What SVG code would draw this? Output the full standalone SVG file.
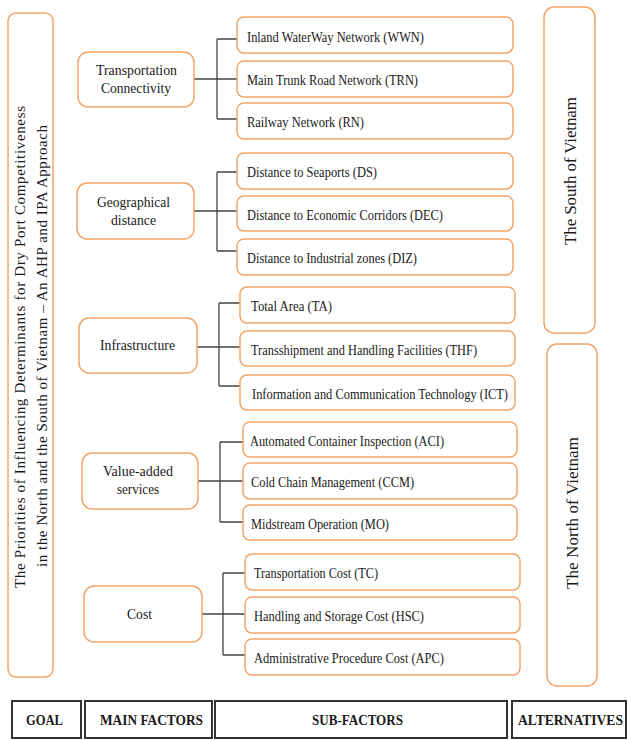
<svg xmlns="http://www.w3.org/2000/svg" width="628" height="740" viewBox="0 0 628 740">
<style>
  .box { fill: #ffffff; stroke: #F2A468; stroke-width: 1.5; }
  .hdr { fill: #ffffff; stroke: #333333; stroke-width: 2; }
  .t { font-family: "Liberation Serif", "Times New Roman", serif; fill: #1a1a1a; }
  .main { font-size: 15px; text-anchor: middle; }
  .sub { font-size: 14px; }
  .goal { font-size: 15px; text-anchor: middle; }
  .alt { font-size: 17px; text-anchor: middle; }
  .h { font-size: 14px; font-weight: bold; text-anchor: middle; }
  .conn { fill: none; stroke: #444444; stroke-width: 1.3; }
</style>
<rect width="628" height="740" fill="#ffffff"/>

<g id="goal">
  <rect class="box" x="8" y="13" width="45" height="664" rx="8"/>
  <text class="t goal" transform="translate(25,347) rotate(-90)" textLength="482" lengthAdjust="spacing">The Priorities of Influencing Determinants for Dry Port Competitiveness</text>
  <text class="t goal" transform="translate(47,346) rotate(-90)" textLength="442" lengthAdjust="spacing">in the North and the South of Vietnam – An AHP and IPA Approach</text>
</g>

<g id="connectors">
  <path class="conn" d="M194,79 H217 M217,39 V119 M217,39 H237 M217,79 H237 M217,119 H237"/>
  <path class="conn" d="M194,211 H217 M217,172 V251 M217,172 H237 M217,211 H237 M217,251 H237"/>
  <path class="conn" d="M197,347 H219 M219,303 V386 M219,303 H240 M219,347 H240 M219,386 H240"/>
  <path class="conn" d="M198,481 H220 M220,442 V522 M220,442 H243 M220,481 H243 M220,522 H243"/>
  <path class="conn" d="M202,614 H223 M223,573 V655 M223,573 H245 M223,614 H245 M223,655 H245"/>
</g>

<g id="main-transportation">
  <rect class="box" x="78" y="52" width="116" height="55" rx="10"/>
  <text class="t main" x="136.5" y="75" textLength="81" lengthAdjust="spacingAndGlyphs">Transportation</text>
  <text class="t main" x="136" y="93" textLength="70" lengthAdjust="spacingAndGlyphs">Connectivity</text>
</g>
<g id="main-geographical">
  <rect class="box" x="77" y="183" width="117" height="56" rx="10"/>
  <text class="t main" x="133.5" y="207" textLength="73" lengthAdjust="spacingAndGlyphs">Geographical</text>
  <text class="t main" x="133.5" y="225" textLength="45" lengthAdjust="spacingAndGlyphs">distance</text>
</g>
<g id="main-infrastructure">
  <rect class="box" x="79" y="318" width="118" height="55" rx="10"/>
  <text class="t main" x="137.5" y="350" textLength="75" lengthAdjust="spacingAndGlyphs">Infrastructure</text>
</g>
<g id="main-valueadded">
  <rect class="box" x="82" y="453" width="116" height="56" rx="10"/>
  <text class="t main" x="138" y="476" textLength="70" lengthAdjust="spacingAndGlyphs">Value-added</text>
  <text class="t main" x="138" y="494" textLength="42" lengthAdjust="spacingAndGlyphs">services</text>
</g>
<g id="main-cost">
  <rect class="box" x="84" y="586" width="118" height="56" rx="10"/>
  <text class="t main" x="139.5" y="619" textLength="25" lengthAdjust="spacingAndGlyphs">Cost</text>
</g>

<g id="sub-wwn">
  <rect class="box" x="237" y="17" width="276" height="36" rx="7"/>
  <text class="t sub" x="247" y="41.5" textLength="177" lengthAdjust="spacingAndGlyphs">Inland WaterWay Network (WWN)</text>
</g>
<g id="sub-trn">
  <rect class="box" x="237" y="61" width="276" height="36" rx="7"/>
  <text class="t sub" x="247" y="84.5" textLength="171" lengthAdjust="spacingAndGlyphs">Main Trunk Road Network (TRN)</text>
</g>
<g id="sub-rn">
  <rect class="box" x="237" y="103" width="276" height="36" rx="7"/>
  <text class="t sub" x="247" y="126.5" textLength="117" lengthAdjust="spacingAndGlyphs">Railway Network (RN)</text>
</g>
<g id="sub-ds">
  <rect class="box" x="237" y="153" width="276" height="36" rx="7"/>
  <text class="t sub" x="247" y="176.5" textLength="130" lengthAdjust="spacingAndGlyphs">Distance to Seaports (DS)</text>
</g>
<g id="sub-dec">
  <rect class="box" x="237" y="196" width="276" height="35" rx="7"/>
  <text class="t sub" x="247" y="219.5" textLength="196" lengthAdjust="spacingAndGlyphs">Distance to Economic Corridors (DEC)</text>
</g>
<g id="sub-diz">
  <rect class="box" x="237" y="239" width="276" height="36" rx="7"/>
  <text class="t sub" x="247" y="262.5" textLength="170" lengthAdjust="spacingAndGlyphs">Distance to Industrial zones (DIZ)</text>
</g>
<g id="sub-ta">
  <rect class="box" x="240" y="287" width="275" height="36" rx="7"/>
  <text class="t sub" x="251" y="310.5" textLength="81" lengthAdjust="spacingAndGlyphs">Total Area (TA)</text>
</g>
<g id="sub-thf">
  <rect class="box" x="240" y="331" width="275" height="35" rx="7"/>
  <text class="t sub" x="251" y="354.5" textLength="226" lengthAdjust="spacingAndGlyphs">Transshipment and Handling Facilities (THF)</text>
</g>
<g id="sub-ict">
  <rect class="box" x="240" y="375" width="275" height="35" rx="7"/>
  <text class="t sub" x="252" y="398.5" textLength="256" lengthAdjust="spacingAndGlyphs">Information and Communication Technology (ICT)</text>
</g>
<g id="sub-aci">
  <rect class="box" x="243" y="422" width="274" height="35" rx="7"/>
  <text class="t sub" x="250" y="445.5" textLength="194" lengthAdjust="spacingAndGlyphs">Automated Container Inspection (ACI)</text>
</g>
<g id="sub-ccm">
  <rect class="box" x="243" y="463" width="274" height="36" rx="7"/>
  <text class="t sub" x="251" y="486.5" textLength="163" lengthAdjust="spacingAndGlyphs">Cold Chain Management (CCM)</text>
</g>
<g id="sub-mo">
  <rect class="box" x="243" y="505" width="274" height="35" rx="7"/>
  <text class="t sub" x="251" y="528.5" textLength="138" lengthAdjust="spacingAndGlyphs">Midstream Operation (MO)</text>
</g>
<g id="sub-tc">
  <rect class="box" x="245" y="554" width="275" height="36" rx="7"/>
  <text class="t sub" x="254" y="577.5" textLength="124" lengthAdjust="spacingAndGlyphs">Transportation Cost (TC)</text>
</g>
<g id="sub-hsc">
  <rect class="box" x="245" y="597" width="275" height="36" rx="7"/>
  <text class="t sub" x="254" y="620.5" textLength="170" lengthAdjust="spacingAndGlyphs">Handling and Storage Cost (HSC)</text>
</g>
<g id="sub-apc">
  <rect class="box" x="245" y="639" width="275" height="36" rx="7"/>
  <text class="t sub" x="254" y="662.5" textLength="190" lengthAdjust="spacingAndGlyphs">Administrative Procedure Cost (APC)</text>
</g>

<g id="alt-south">
  <rect class="box" x="544" y="7" width="51" height="326" rx="10"/>
  <text class="t alt" transform="translate(576,171) rotate(-90)" textLength="148" lengthAdjust="spacing">The South of Vietnam</text>
</g>
<g id="alt-north">
  <rect class="box" x="547" y="344" width="50" height="342" rx="10"/>
  <text class="t alt" transform="translate(578,513) rotate(-90)" textLength="152" lengthAdjust="spacing">The North of Vietnam</text>
</g>

<g id="headers">
  <rect class="hdr" x="12" y="701" width="69" height="37"/>
  <text class="t h" x="44.5" y="725" textLength="37" lengthAdjust="spacingAndGlyphs">GOAL</text>
  <rect class="hdr" x="85" y="701" width="127" height="37"/>
  <text class="t h" x="151.5" y="725" textLength="103" lengthAdjust="spacingAndGlyphs">MAIN FACTORS</text>
  <rect class="hdr" x="215" y="701" width="292" height="37"/>
  <text class="t h" x="357.5" y="725" textLength="91" lengthAdjust="spacingAndGlyphs">SUB-FACTORS</text>
  <rect class="hdr" x="512" y="701" width="114" height="37"/>
  <text class="t h" x="570.5" y="725" textLength="105" lengthAdjust="spacingAndGlyphs">ALTERNATIVES</text>
</g>
</svg>
